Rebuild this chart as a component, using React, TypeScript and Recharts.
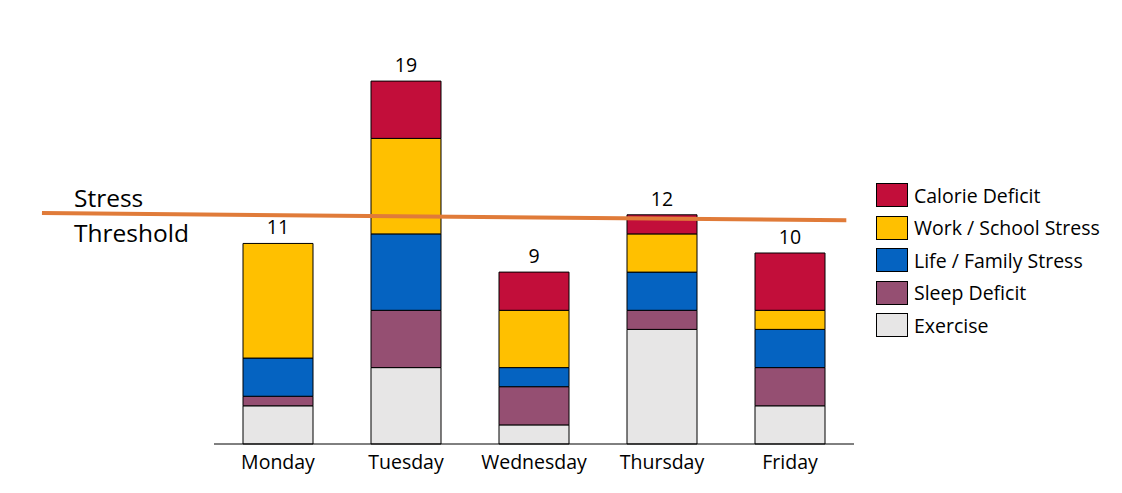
import React from 'react';
import { ComposedChart, Bar, XAxis, YAxis, ReferenceLine, LabelList } from 'recharts';

const days = ['Monday', 'Tuesday', 'Wednesday', 'Thursday', 'Friday'];
const exercise = [2, 4, 1, 6, 2];
const sleepDeficit = [0.5, 3, 2, 1, 2];
const lifeStress = [2, 4, 1, 2, 2];
const workStress = [6, 5, 3, 2, 1];
const calorieDeficit = [0, 3, 2, 1, 3];
const totalLabels = [11, 19, 9, 12, 10];
const thresholdStart = { x: -1.344, y: 12.09 };
const thresholdEnd = { x: 4.94, y: 11.72 };

const series = [
  { key: 'exercise', name: 'Exercise', color: '#E7E6E6' },
  { key: 'sleep', name: 'Sleep Deficit', color: '#954F72' },
  { key: 'life', name: 'Life / Family Stress', color: '#0563C1' },
  { key: 'work', name: 'Work / School Stress', color: '#FFC000' },
  { key: 'calorie', name: 'Calorie Deficit', color: '#C20E3A' },
];

const data = days.map((d, i) => ({
  x: i + 0.5,
  day: d,
  exercise: exercise[i],
  sleep: sleepDeficit[i],
  life: lifeStress[i],
  work: workStress[i],
  calorie: calorieDeficit[i],
  total: totalLabels[i],
}));

// index of the top-most non-zero series for each day
const topSeries = data.map((row: any) => {
  let top = 0;
  series.forEach((s, idx) => {
    if (row[s.key] > 0) top = idx;
  });
  return top;
});

const FONT = '"Open Sans", sans-serif';

const LegendBox = () => (
  <div style={{ position: 'absolute', left: 876, top: 179, fontFamily: FONT }}>
    {[...series].reverse().map((s) => (
      <div key={s.key} style={{ display: 'flex', alignItems: 'center', height: 32.5 }}>
        <div style={{ width: 30, height: 22, background: s.color, border: '1px solid #000', boxSizing: 'content-box' }} />
        <span style={{ marginLeft: 6, fontSize: 19.5, color: '#000', whiteSpace: 'nowrap' }}>{s.name}</span>
      </div>
    ))}
  </div>
);

const makeLabel = (seriesIdx: number) => (props: any) => {
  const { x, y, width, value } = props;
  const dayIdx = Math.round(Number(value) - 0.5);
  if (topSeries[dayIdx] !== seriesIdx) return null;
  return (
    <text
      x={Number(x) + Number(width) / 2}
      y={Number(y) - 9}
      textAnchor="middle"
      fill="#000"
      fontSize={19.5}
      fontFamily={FONT}
    >
      {totalLabels[dayIdx]}
    </text>
  );
};

export default function App() {
  return (
    <div style={{ position: 'absolute', left: 0, top: 0, width: 1122, height: 493, background: '#fff', fontFamily: FONT }}>
      <ComposedChart width={1122} height={493} data={data} margin={{ top: 62, right: 268, bottom: 19, left: 214 }}>
        <XAxis
          dataKey="x"
          type="number"
          domain={[0, 5]}
          ticks={data.map((d) => d.x)}
          tickFormatter={(v: number) => days[Math.round(v - 0.5)]}
          tickLine={false}
          axisLine={{ stroke: '#000', strokeWidth: 1 }}
          tick={{ fill: '#000', fontSize: 19.5, fontFamily: FONT, dy: 3 }}
          height={30}
          interval={0}
        />
        <YAxis hide domain={[0, 20]} />
        {series.map((s, idx) => (
          <Bar
            key={s.key}
            dataKey={s.key}
            name={s.name}
            stackId="a"
            fill={s.color}
            stroke="#000"
            strokeWidth={1}
            barSize={70}
            isAnimationActive={false}
          >
            <LabelList dataKey="x" content={makeLabel(idx)} />
          </Bar>
        ))}
        <ReferenceLine
          segment={[thresholdStart, thresholdEnd]}
          stroke="#E07B39"
          strokeWidth={4}
          ifOverflow="visible"
        />
      </ComposedChart>
      <LegendBox />
      <div style={{ position: 'absolute', left: 74, top: 180, fontSize: 24.5, lineHeight: '35px', color: '#000' }}>
        Stress
        <br />
        Threshold
      </div>
    </div>
  );
}
